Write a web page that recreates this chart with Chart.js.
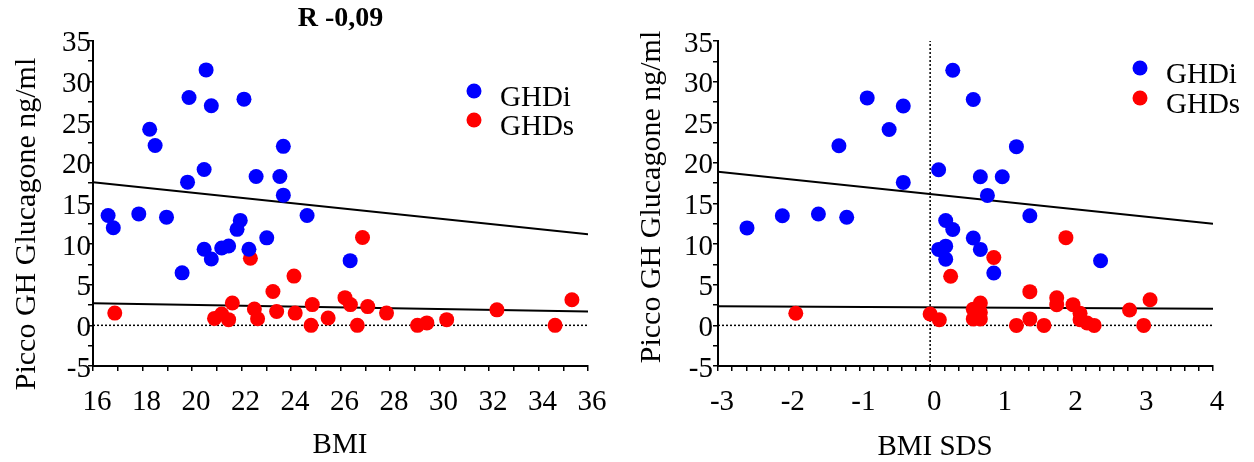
<!DOCTYPE html>
<html>
<head>
<meta charset="utf-8">
<script src="https://cdn.jsdelivr.net/npm/chart.js@4.4.1/dist/chart.umd.min.js"></script>
<style>
  html, body { margin: 0; padding: 0; background: #fff; }
  #wrap { position: relative; width: 1254px; height: 462px; }
  .box { position: absolute; top: 0; width: 627px; height: 462px; }
</style>
</head>
<body>
<div id="wrap">
  <div class="box" style="left:0"><canvas id="bmiChart" width="627" height="462"></canvas></div>
  <div class="box" style="left:627px"><canvas id="sdsChart" width="627" height="462"></canvas></div>
</div>
<script>
// ------------------------------------------
// Data
// ------------------------------------------
const seriesNames = ['GHDi', 'GHDs'];

// BMI panel
const bmiGHDiX = [16.61, 16.82, 17.85, 18.29, 18.51, 18.97, 19.6, 19.82, 19.88, 20.49, 20.49, 20.57, 20.78, 20.78, 21.2, 21.48, 21.82, 21.95, 22.1, 22.3, 22.59, 23.02, 23.55, 23.69, 23.69, 24.65, 26.39];
const bmiGHDiY = [13.5, 12.0, 13.7, 24.1, 22.1, 13.3, 6.45, 17.6, 28.0, 19.15, 9.35, 31.4, 27.0, 8.15, 9.5, 9.75, 11.8, 12.9, 27.8, 9.35, 18.3, 10.75, 18.3, 16.0, 22.0, 13.5, 7.95];
const bmiGHDsX = [16.88, 20.91, 21.2, 21.48, 21.63, 22.36, 22.52, 22.65, 23.27, 23.42, 24.12, 24.17, 24.86, 24.81, 25.5, 26.18, 26.4, 26.68, 26.89, 27.1, 27.86, 29.11, 29.49, 30.29, 32.32, 34.67, 35.35];
const bmiGHDsY = [1.5, 0.85, 1.4, 0.7, 2.75, 8.25, 2.0, 0.8, 4.15, 1.7, 6.05, 1.5, 2.55, 0, 0.9, 3.4, 2.55, 0, 10.8, 2.3, 1.5, 0, 0.3, 0.7, 1.9, 0, 3.15];
const bmiFitX = [16, 36];
const bmiFitGHDiY = [17.6, 11.2];
const bmiFitGHDsY = [2.7, 1.7];

// BMI SDS panel
const sdsGHDiX = [-2.59, -2.09, -1.58, -1.29, -1.18, -0.89, -0.58, -0.38, -0.38, 0.12, 0.12, 0.22, 0.22, 0.22, 0.32, 0.32, 0.61, 0.61, 0.71, 0.71, 0.81, 0.9, 1.02, 1.22, 1.41, 2.41];
const sdsGHDiY = [12.0, 13.5, 13.7, 22.1, 13.3, 28.0, 24.1, 27.0, 17.6, 19.15, 9.35, 9.75, 12.9, 8.15, 31.4, 11.8, 27.8, 10.75, 18.3, 9.35, 16.0, 6.45, 18.3, 22.0, 13.5, 7.95];
const sdsGHDsX = [-1.9, 0.0, 0.13, 0.29, 0.61, 0.61, 0.71, 0.71, 0.71, 0.9, 1.22, 1.41, 1.41, 1.61, 1.79, 1.79, 1.92, 2.02, 2.12, 2.12, 2.22, 2.32, 2.82, 3.02, 3.11];
const sdsGHDsY = [1.5, 1.4, 0.7, 6.05, 2.0, 0.8, 2.75, 1.6, 0.8, 8.35, 0, 4.15, 0.8, 0, 3.4, 2.55, 10.8, 2.55, 1.5, 0.7, 0.3, 0, 1.9, 0, 3.15];
const sdsFitX = [-3, 4];
const sdsFitGHDiY = [18.9, 12.5];
const sdsFitGHDsY = [2.35, 2.05];

// axis ranges / ticks
const yRange = [-5, 35];
const yMinorStep = 2.5;
const yLabelStep = 5;
const bmiRange = [16, 36];
const bmiMinorStep = 1;
const bmiLabelStep = 2;
const sdsRange = [-3, 4];
const sdsMinorStep = 0.2;
const sdsLabelStep = 1;

const yTitle = 'Picco GH Glucagone ng/ml';
const bmiTitle = 'BMI';
const sdsTitle = 'BMI SDS';
const bmiCorr = 'R -0,09';

// ------------------------------------------
// Helpers
// ------------------------------------------
const FONT = "'Liberation Serif', 'Times New Roman', serif";
const BLUE = 'rgb(0,0,255)';
const RED = 'rgb(255,0,0)';

function pts(xs, ys) {
  return xs.map((x, i) => ({ x: x, y: ys[i] }));
}

function onStep(v, step) {
  const r = v / step;
  return Math.abs(r - Math.round(r)) < 1e-6;
}

function scatterSet(label, xs, ys, color) {
  return {
    label: label, data: pts(xs, ys), inLegend: true,
    backgroundColor: color, borderColor: color,
    pointRadius: 7.5, pointHoverRadius: 7.5, borderWidth: 0
  };
}

function lineSet(data, dash) {
  return {
    label: '', data: data, showLine: true, pointRadius: 0,
    borderColor: '#000', borderWidth: dash ? 1.5 : 2,
    borderDash: dash || [], fill: false
  };
}

// free text drawn on the canvas (axis titles)
function textPlugin(items) {
  return {
    id: 'freeText',
    afterDraw(chart) {
      const ctx = chart.ctx;
      items.forEach(it => {
        ctx.save();
        ctx.font = it.size + 'px ' + FONT;
        ctx.fillStyle = '#000';
        ctx.textAlign = 'center';
        ctx.textBaseline = 'middle';
        ctx.translate(it.x, it.y);
        if (it.rot) ctx.rotate(it.rot);
        ctx.fillText(it.text, 0, 0);
        ctx.restore();
      });
    }
  };
}

// dot legend inside the plot
function legendPlugin(pos) {
  return {
    id: 'dotLegend',
    afterDraw(chart) {
      const ctx = chart.ctx;
      chart.data.datasets.filter(d => d.inLegend).forEach((d, i) => {
        const y = pos.y + i * pos.gap;
        ctx.save();
        ctx.beginPath();
        ctx.arc(pos.x, y, 7.5, 0, Math.PI * 2);
        ctx.fillStyle = d.backgroundColor;
        ctx.fill();
        ctx.font = '29px ' + FONT;
        ctx.fillStyle = '#000';
        ctx.textAlign = 'left';
        ctx.textBaseline = 'middle';
        ctx.fillText(d.label, pos.x + 26, y + 7);
        ctx.restore();
      });
    }
  };
}

function axis(range, step, labelStep, fit, pad) {
  return {
    type: 'linear',
    min: range[0], max: range[1],
    ticks: {
      stepSize: step, autoSkip: false, maxRotation: 0, minRotation: 0,
      padding: pad.padding, labelOffset: pad.offset,
      color: '#000', font: { family: FONT, size: 29 },
      callback: v => onStep(v, labelStep) ? String(Math.round(v)) : ''
    },
    grid: { display: true, drawOnChartArea: false, drawTicks: true, tickLength: 5, color: '#000', lineWidth: 1.5 },
    border: { display: true, color: '#000', width: 2 },
    title: { display: false },
    afterFit: fit
  };
}

function buildChart(canvasId, cfg) {
  return new Chart(document.getElementById(canvasId), {
    type: 'scatter',
    data: {
      datasets: [
        scatterSet(seriesNames[0], cfg.ix, cfg.iy, BLUE),
        scatterSet(seriesNames[1], cfg.sx, cfg.sy, RED),
        lineSet(pts(cfg.fitX, cfg.fitI)),
        lineSet(pts(cfg.fitX, cfg.fitS)),
        lineSet(pts(cfg.xRange, [0, 0]), [2, 2])
      ].concat(cfg.extraSets || [])
    },
    options: {
      responsive: false,
      animation: false,
      devicePixelRatio: 1,
      layout: { padding: { top: cfg.padTop, right: cfg.padRight, left: 0, bottom: 0 } },
      plugins: {
        legend: { display: false },
        tooltip: { enabled: false },
        title: cfg.title ? {
          display: true, text: cfg.title, fullSize: false, color: '#000',
          font: { family: FONT, size: 28, weight: 'bold' },
          padding: { top: 2, bottom: 5 }
        } : { display: false }
      },
      scales: {
        x: axis(cfg.xRange, cfg.xStep, cfg.xLabelStep, s => { s.height = 96; },
          { padding: 14, offset: 4 }),
        y: axis(yRange, yMinorStep, yLabelStep, s => { s.width = cfg.yWidth; },
          { padding: cfg.yPad, offset: 3 })
      }
    },
    plugins: [textPlugin(cfg.texts), legendPlugin(cfg.legend)]
  });
}

buildChart('bmiChart', {
  ix: bmiGHDiX, iy: bmiGHDiY, sx: bmiGHDsX, sy: bmiGHDsY,
  fitX: bmiFitX, fitI: bmiFitGHDiY, fitS: bmiFitGHDsY,
  xRange: bmiRange, xStep: bmiMinorStep, xLabelStep: bmiLabelStep,
  title: bmiCorr, padTop: 0, padRight: 39, yWidth: 93, yPad: -3,
  legend: { x: 474, y: 91, gap: 29 },
  texts: [
    { text: yTitle, x: 27, y: 224, size: 30, rot: -Math.PI / 2 },
    { text: bmiTitle, x: 340, y: 445, size: 29 }
  ]
});

buildChart('sdsChart', {
  ix: sdsGHDiX, iy: sdsGHDiY, sx: sdsGHDsX, sy: sdsGHDsY,
  fitX: sdsFitX, fitI: sdsFitGHDiY, fitS: sdsFitGHDsY,
  xRange: sdsRange, xStep: sdsMinorStep, xLabelStep: sdsLabelStep,
  title: null, padTop: 41, padRight: 41, yWidth: 91, yPad: 0,
  legend: { x: 513, y: 68, gap: 30 },
  extraSets: [lineSet(pts([0, 0], yRange), [2, 2])],
  texts: [
    { text: yTitle, x: 25, y: 197, size: 30, rot: -Math.PI / 2 },
    { text: sdsTitle, x: 308, y: 447, size: 29 }
  ]
});
</script>
</body>
</html>
